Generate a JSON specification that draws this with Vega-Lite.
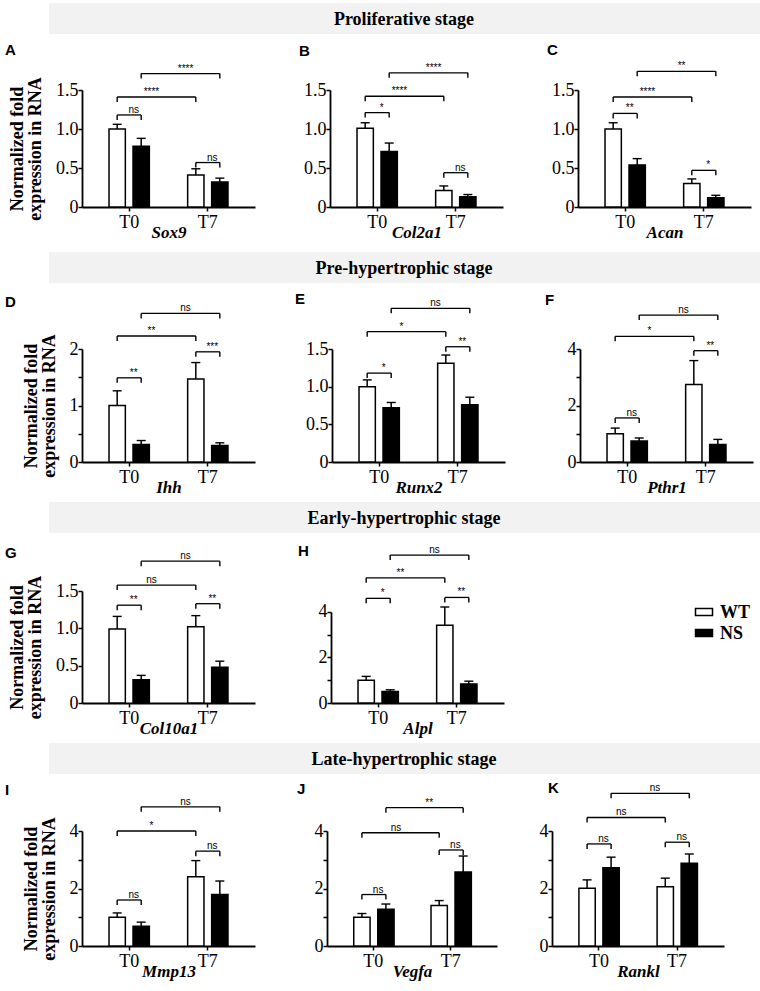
{
"$schema": "https://vega.github.io/schema/vega-lite/v6.json",
"padding": {"left": 5, "top": 3, "right": 0, "bottom": 3},
"datasets": {"d": [
{"r":"bar","p":"A","t":"T0","g":"WT","v":1.0,"u":1.06},{"r":"bar","p":"A","t":"T0","g":"NS","v":0.78,"u":0.88},{"r":"bar","p":"A","t":"T7","g":"WT","v":0.41,"u":0.49},{"r":"bar","p":"A","t":"T7","g":"NS","v":0.32,"u":0.37},
{"r":"bar","p":"B","t":"T0","g":"WT","v":1.01,"u":1.08},{"r":"bar","p":"B","t":"T0","g":"NS","v":0.71,"u":0.82},{"r":"bar","p":"B","t":"T7","g":"WT","v":0.21,"u":0.27},{"r":"bar","p":"B","t":"T7","g":"NS","v":0.13,"u":0.16},
{"r":"bar","p":"C","t":"T0","g":"WT","v":1.0,"u":1.08},{"r":"bar","p":"C","t":"T0","g":"NS","v":0.54,"u":0.62},{"r":"bar","p":"C","t":"T7","g":"WT","v":0.3,"u":0.36},{"r":"bar","p":"C","t":"T7","g":"NS","v":0.12,"u":0.15},
{"r":"bar","p":"D","t":"T0","g":"WT","v":1.0,"u":1.26},{"r":"bar","p":"D","t":"T0","g":"NS","v":0.31,"u":0.38},{"r":"bar","p":"D","t":"T7","g":"WT","v":1.47,"u":1.76},{"r":"bar","p":"D","t":"T7","g":"NS","v":0.29,"u":0.34},
{"r":"bar","p":"E","t":"T0","g":"WT","v":1.0,"u":1.09},{"r":"bar","p":"E","t":"T0","g":"NS","v":0.72,"u":0.79},{"r":"bar","p":"E","t":"T7","g":"WT","v":1.31,"u":1.42},{"r":"bar","p":"E","t":"T7","g":"NS","v":0.76,"u":0.86},
{"r":"bar","p":"F","t":"T0","g":"WT","v":1.0,"u":1.2},{"r":"bar","p":"F","t":"T0","g":"NS","v":0.74,"u":0.85},{"r":"bar","p":"F","t":"T7","g":"WT","v":2.74,"u":3.59},{"r":"bar","p":"F","t":"T7","g":"NS","v":0.62,"u":0.8},
{"r":"bar","p":"G","t":"T0","g":"WT","v":0.99,"u":1.16},{"r":"bar","p":"G","t":"T0","g":"NS","v":0.31,"u":0.37},{"r":"bar","p":"G","t":"T7","g":"WT","v":1.02,"u":1.17},{"r":"bar","p":"G","t":"T7","g":"NS","v":0.48,"u":0.56},
{"r":"bar","p":"H","t":"T0","g":"WT","v":1.0,"u":1.17},{"r":"bar","p":"H","t":"T0","g":"NS","v":0.5,"u":0.58},{"r":"bar","p":"H","t":"T7","g":"WT","v":3.42,"u":4.22},{"r":"bar","p":"H","t":"T7","g":"NS","v":0.84,"u":0.96},
{"r":"bar","p":"I","t":"T0","g":"WT","v":1.0,"u":1.15},{"r":"bar","p":"I","t":"T0","g":"NS","v":0.69,"u":0.83},{"r":"bar","p":"I","t":"T7","g":"WT","v":2.41,"u":2.97},{"r":"bar","p":"I","t":"T7","g":"NS","v":1.79,"u":2.26},
{"r":"bar","p":"J","t":"T0","g":"WT","v":1.0,"u":1.13},{"r":"bar","p":"J","t":"T0","g":"NS","v":1.28,"u":1.46},{"r":"bar","p":"J","t":"T7","g":"WT","v":1.41,"u":1.58},{"r":"bar","p":"J","t":"T7","g":"NS","v":2.57,"u":3.13},
{"r":"bar","p":"K","t":"T0","g":"WT","v":2.01,"u":2.3},{"r":"bar","p":"K","t":"T0","g":"NS","v":2.72,"u":3.09},{"r":"bar","p":"K","t":"T7","g":"WT","v":2.06,"u":2.36},{"r":"bar","p":"K","t":"T7","g":"NS","v":2.88,"u":3.2},

{"r":"br","p":"A","b":"w0","t":"T0","g":"WT","v":1.18},{"r":"br","p":"A","b":"w0","t":"T0","g":"NS","v":1.18},{"r":"br","p":"A","b":"lw","t":"T0","g":"WT","v":1.41},{"r":"br","p":"A","b":"lw","t":"T7","g":"WT","v":1.41},{"r":"br","p":"A","b":"ln","t":"T0","g":"NS","v":1.71},{"r":"br","p":"A","b":"ln","t":"T7","g":"NS","v":1.71},{"r":"br","p":"A","b":"w7","t":"T7","g":"WT","v":0.57},{"r":"br","p":"A","b":"w7","t":"T7","g":"NS","v":0.57},
{"r":"br","p":"B","b":"w0","t":"T0","g":"WT","v":1.21},{"r":"br","p":"B","b":"w0","t":"T0","g":"NS","v":1.21},{"r":"br","p":"B","b":"lw","t":"T0","g":"WT","v":1.42},{"r":"br","p":"B","b":"lw","t":"T7","g":"WT","v":1.42},{"r":"br","p":"B","b":"ln","t":"T0","g":"NS","v":1.72},{"r":"br","p":"B","b":"ln","t":"T7","g":"NS","v":1.72},{"r":"br","p":"B","b":"w7","t":"T7","g":"WT","v":0.44},{"r":"br","p":"B","b":"w7","t":"T7","g":"NS","v":0.44},
{"r":"br","p":"C","b":"w0","t":"T0","g":"WT","v":1.2},{"r":"br","p":"C","b":"w0","t":"T0","g":"NS","v":1.2},{"r":"br","p":"C","b":"lw","t":"T0","g":"WT","v":1.41},{"r":"br","p":"C","b":"lw","t":"T7","g":"WT","v":1.41},{"r":"br","p":"C","b":"ln","t":"T0","g":"NS","v":1.74},{"r":"br","p":"C","b":"ln","t":"T7","g":"NS","v":1.74},{"r":"br","p":"C","b":"w7","t":"T7","g":"WT","v":0.47},{"r":"br","p":"C","b":"w7","t":"T7","g":"NS","v":0.47},
{"r":"br","p":"D","b":"w0","t":"T0","g":"WT","v":1.49},{"r":"br","p":"D","b":"w0","t":"T0","g":"NS","v":1.49},{"r":"br","p":"D","b":"lw","t":"T0","g":"WT","v":2.23},{"r":"br","p":"D","b":"lw","t":"T7","g":"WT","v":2.23},{"r":"br","p":"D","b":"ln","t":"T0","g":"NS","v":2.63},{"r":"br","p":"D","b":"ln","t":"T7","g":"NS","v":2.63},{"r":"br","p":"D","b":"w7","t":"T7","g":"WT","v":1.95},{"r":"br","p":"D","b":"w7","t":"T7","g":"NS","v":1.95},
{"r":"br","p":"E","b":"w0","t":"T0","g":"WT","v":1.18},{"r":"br","p":"E","b":"w0","t":"T0","g":"NS","v":1.18},{"r":"br","p":"E","b":"lw","t":"T0","g":"WT","v":1.73},{"r":"br","p":"E","b":"lw","t":"T7","g":"WT","v":1.73},{"r":"br","p":"E","b":"ln","t":"T0","g":"NS","v":2.04},{"r":"br","p":"E","b":"ln","t":"T7","g":"NS","v":2.04},{"r":"br","p":"E","b":"w7","t":"T7","g":"WT","v":1.53},{"r":"br","p":"E","b":"w7","t":"T7","g":"NS","v":1.53},
{"r":"br","p":"F","b":"w0","t":"T0","g":"WT","v":1.56},{"r":"br","p":"F","b":"w0","t":"T0","g":"NS","v":1.56},{"r":"br","p":"F","b":"lw","t":"T0","g":"WT","v":4.45},{"r":"br","p":"F","b":"lw","t":"T7","g":"WT","v":4.45},{"r":"br","p":"F","b":"ln","t":"T0","g":"NS","v":5.2},{"r":"br","p":"F","b":"ln","t":"T7","g":"NS","v":5.2},{"r":"br","p":"F","b":"w7","t":"T7","g":"WT","v":3.94},{"r":"br","p":"F","b":"w7","t":"T7","g":"NS","v":3.94},
{"r":"br","p":"G","b":"w0","t":"T0","g":"WT","v":1.31},{"r":"br","p":"G","b":"w0","t":"T0","g":"NS","v":1.31},{"r":"br","p":"G","b":"lw","t":"T0","g":"WT","v":1.58},{"r":"br","p":"G","b":"lw","t":"T7","g":"WT","v":1.58},{"r":"br","p":"G","b":"ln","t":"T0","g":"NS","v":1.9},{"r":"br","p":"G","b":"ln","t":"T7","g":"NS","v":1.9},{"r":"br","p":"G","b":"w7","t":"T7","g":"WT","v":1.33},{"r":"br","p":"G","b":"w7","t":"T7","g":"NS","v":1.33},
{"r":"br","p":"H","b":"w0","t":"T0","g":"WT","v":4.6},{"r":"br","p":"H","b":"w0","t":"T0","g":"NS","v":4.6},{"r":"br","p":"H","b":"lw","t":"T0","g":"WT","v":5.5},{"r":"br","p":"H","b":"lw","t":"T7","g":"WT","v":5.5},{"r":"br","p":"H","b":"ln","t":"T0","g":"NS","v":6.5},{"r":"br","p":"H","b":"ln","t":"T7","g":"NS","v":6.5},{"r":"br","p":"H","b":"w7","t":"T7","g":"WT","v":4.64},{"r":"br","p":"H","b":"w7","t":"T7","g":"NS","v":4.64},
{"r":"br","p":"I","b":"w0","t":"T0","g":"WT","v":1.6},{"r":"br","p":"I","b":"w0","t":"T0","g":"NS","v":1.6},{"r":"br","p":"I","b":"lw","t":"T0","g":"WT","v":4.0},{"r":"br","p":"I","b":"lw","t":"T7","g":"WT","v":4.0},{"r":"br","p":"I","b":"ln","t":"T0","g":"NS","v":4.84},{"r":"br","p":"I","b":"ln","t":"T7","g":"NS","v":4.84},{"r":"br","p":"I","b":"w7","t":"T7","g":"WT","v":3.3},{"r":"br","p":"I","b":"w7","t":"T7","g":"NS","v":3.3},
{"r":"br","p":"J","b":"w0","t":"T0","g":"WT","v":1.79},{"r":"br","p":"J","b":"w0","t":"T0","g":"NS","v":1.79},{"r":"br","p":"J","b":"lw","t":"T0","g":"WT","v":3.94},{"r":"br","p":"J","b":"lw","t":"T7","g":"WT","v":3.94},{"r":"br","p":"J","b":"ln","t":"T0","g":"NS","v":4.81},{"r":"br","p":"J","b":"ln","t":"T7","g":"NS","v":4.81},{"r":"br","p":"J","b":"w7","t":"T7","g":"WT","v":3.34},{"r":"br","p":"J","b":"w7","t":"T7","g":"NS","v":3.34},
{"r":"br","p":"K","b":"w0","t":"T0","g":"WT","v":3.55},{"r":"br","p":"K","b":"w0","t":"T0","g":"NS","v":3.55},{"r":"br","p":"K","b":"lw","t":"T0","g":"WT","v":4.47},{"r":"br","p":"K","b":"lw","t":"T7","g":"WT","v":4.47},{"r":"br","p":"K","b":"ln","t":"T0","g":"NS","v":5.31},{"r":"br","p":"K","b":"ln","t":"T7","g":"NS","v":5.31},{"r":"br","p":"K","b":"w7","t":"T7","g":"WT","v":3.61},{"r":"br","p":"K","b":"w7","t":"T7","g":"NS","v":3.61},

{"r":"lab","p":"A","k":"w","t":"T0","g":"WT","v":1.18,"s":"ns"},{"r":"lab","p":"A","k":"lw","t":"T0","g":"NS","v":1.41,"s":"****"},{"r":"lab","p":"A","k":"ln","t":"T7","g":"WT","v":1.71,"s":"****"},{"r":"lab","p":"A","k":"w","t":"T7","g":"WT","v":0.57,"s":"ns"},
{"r":"lab","p":"B","k":"w","t":"T0","g":"WT","v":1.21,"s":"*"},{"r":"lab","p":"B","k":"lw","t":"T0","g":"NS","v":1.42,"s":"****"},{"r":"lab","p":"B","k":"ln","t":"T7","g":"WT","v":1.72,"s":"****"},{"r":"lab","p":"B","k":"w","t":"T7","g":"WT","v":0.44,"s":"ns"},
{"r":"lab","p":"C","k":"w","t":"T0","g":"WT","v":1.2,"s":"**"},{"r":"lab","p":"C","k":"lw","t":"T0","g":"NS","v":1.41,"s":"****"},{"r":"lab","p":"C","k":"ln","t":"T7","g":"WT","v":1.74,"s":"**"},{"r":"lab","p":"C","k":"w","t":"T7","g":"WT","v":0.47,"s":"*"},
{"r":"lab","p":"D","k":"w","t":"T0","g":"WT","v":1.49,"s":"**"},{"r":"lab","p":"D","k":"lw","t":"T0","g":"NS","v":2.23,"s":"**"},{"r":"lab","p":"D","k":"ln","t":"T7","g":"WT","v":2.63,"s":"ns"},{"r":"lab","p":"D","k":"w","t":"T7","g":"WT","v":1.95,"s":"***"},
{"r":"lab","p":"E","k":"w","t":"T0","g":"WT","v":1.18,"s":"*"},{"r":"lab","p":"E","k":"lw","t":"T0","g":"NS","v":1.73,"s":"*"},{"r":"lab","p":"E","k":"ln","t":"T7","g":"WT","v":2.04,"s":"ns"},{"r":"lab","p":"E","k":"w","t":"T7","g":"WT","v":1.53,"s":"**"},
{"r":"lab","p":"F","k":"w","t":"T0","g":"WT","v":1.56,"s":"ns"},{"r":"lab","p":"F","k":"lw","t":"T0","g":"NS","v":4.45,"s":"*"},{"r":"lab","p":"F","k":"ln","t":"T7","g":"WT","v":5.2,"s":"ns"},{"r":"lab","p":"F","k":"w","t":"T7","g":"WT","v":3.94,"s":"**"},
{"r":"lab","p":"G","k":"w","t":"T0","g":"WT","v":1.31,"s":"**"},{"r":"lab","p":"G","k":"lw","t":"T0","g":"NS","v":1.58,"s":"ns"},{"r":"lab","p":"G","k":"ln","t":"T7","g":"WT","v":1.9,"s":"ns"},{"r":"lab","p":"G","k":"w","t":"T7","g":"WT","v":1.33,"s":"**"},
{"r":"lab","p":"H","k":"w","t":"T0","g":"WT","v":4.6,"s":"*"},{"r":"lab","p":"H","k":"lw","t":"T0","g":"NS","v":5.5,"s":"**"},{"r":"lab","p":"H","k":"ln","t":"T7","g":"WT","v":6.5,"s":"ns"},{"r":"lab","p":"H","k":"w","t":"T7","g":"WT","v":4.64,"s":"**"},
{"r":"lab","p":"I","k":"w","t":"T0","g":"WT","v":1.6,"s":"ns"},{"r":"lab","p":"I","k":"lw","t":"T0","g":"NS","v":4.0,"s":"*"},{"r":"lab","p":"I","k":"ln","t":"T7","g":"WT","v":4.84,"s":"ns"},{"r":"lab","p":"I","k":"w","t":"T7","g":"WT","v":3.3,"s":"ns"},
{"r":"lab","p":"J","k":"w","t":"T0","g":"WT","v":1.79,"s":"ns"},{"r":"lab","p":"J","k":"lw","t":"T0","g":"NS","v":3.94,"s":"ns"},{"r":"lab","p":"J","k":"ln","t":"T7","g":"WT","v":4.81,"s":"**"},{"r":"lab","p":"J","k":"w","t":"T7","g":"WT","v":3.34,"s":"ns"},
{"r":"lab","p":"K","k":"w","t":"T0","g":"WT","v":3.55,"s":"ns"},{"r":"lab","p":"K","k":"lw","t":"T0","g":"NS","v":4.47,"s":"ns"},{"r":"lab","p":"K","k":"ln","t":"T7","g":"WT","v":5.31,"s":"ns"},{"r":"lab","p":"K","k":"w","t":"T7","g":"WT","v":3.61,"s":"ns"}
]},
"config": {
"view": {"stroke": null},
"scale": {"bandPaddingInner": 0, "bandPaddingOuter": 0, "offsetBandPaddingInner": 0.32, "offsetBandPaddingOuter": 0.47},
"axis": {"domainColor": "black", "domainWidth": 1.8, "tickColor": "black", "tickWidth": 1.5, "tickSize": 4, "labelColor": "black", "labelFont": "Liberation Serif", "labelFontSize": 18, "labelPadding": 0, "grid": false, "titleFont": "Liberation Serif", "titleFontWeight": "bold", "titleColor": "black"},
"axisX": {"labelAngle": 0, "labelPadding": 2, "titleFontStyle": "italic", "titleFontSize": 17, "titlePadding": -7},
"axisY": {"titleFontSize": 18, "titlePadding": 11, "titleLineHeight": 18},
"title": {"font": "Liberation Sans", "fontSize": 15, "fontWeight": "bold", "anchor": "start", "frame": "group", "baseline": "alphabetic", "color": "black"},
"bar": {"stroke": "black", "strokeWidth": 1.5},
"rule": {"color": "black", "strokeWidth": 1.5},
"tick": {"color": "black", "thickness": 1.4, "opacity": 1},
"line": {"color": "black", "strokeWidth": 1.3},
"text": {"font": "Liberation Sans", "fontSize": 10, "baseline": "alphabetic", "dy": -2, "color": "black"}
},
"columns": 1, "align": "none", "spacing": 8,
"concat": [
{"width": 678, "height": 31, "view": {"fill": "#f2f2f2", "stroke": null}, "data": {"values": [{"s": "Proliferative stage"}]}, "mark": {"type": "text", "font": "Liberation Serif", "fontSize": 18, "fontWeight": "bold", "baseline": "middle", "dy": 1, "dx": -17}, "encoding": {"text": {"field": "s"}, "y": {"field": "s", "type": "nominal", "axis": {"title": null, "labels": false, "ticks": false, "domainColor": "#f2f2f2", "domainWidth": 34, "offset": 16, "translate": 0}}}},
{"columns": 1, "align": "none", "spacing": 12, "concat": [
{"spacing": 44, "hconcat": [
{"width":173,"height":117,"title":{"text":"A","dx":-77,"offset":6},"data":{"name":"d"},"transform":[{"filter":"datum.p=='A'"}],
"encoding":{"x":{"field":"t","type":"nominal","scale":{"type":"band"},"axis":{"title":"Sox9"}},"xOffset":{"field":"g","type":"nominal","scale":{"type":"band","domain":["WT","NS"]}},"y":{"field":"v","type":"quantitative","scale":{"domain":[0,1.5],"nice":false},"axis":{"title":["Normalized fold","expression in RNA"],"values":[0,0.5,1,1.5],"labelExpr":"datum.value == 0 ? '0' : format(datum.value, '.1f')"}}},
"layer":[
{"transform":[{"filter":"datum.r=='bar'"}],"mark":"bar","encoding":{"fill":{"field":"g","type":"nominal","title":null,"scale":{"domain":["WT","NS"],"range":["white","black"]},"legend":null}}},
{"transform":[{"filter":"datum.r=='bar'"}],"mark":"rule","encoding":{"y2":{"field":"u"}}},
{"transform":[{"filter":"datum.r=='bar'"}],"mark":{"type":"tick","size":9},"encoding":{"y":{"field":"u","type":"quantitative"}}},
{"transform":[{"filter":"datum.r=='br'"}],"mark":"line","encoding":{"detail":{"field":"b"}}},
{"transform":[{"filter":"datum.r=='br'"}],"mark":{"type":"tick","orient":"vertical","size":5,"yOffset":2.5}},
{"transform":[{"filter":"datum.k=='w'"}],"mark":{"type":"text","dx":16.5},"encoding":{"text":{"field":"s"}}},
{"transform":[{"filter":"datum.k=='lw'"}],"mark":{"type":"text","dx":10.25},"encoding":{"text":{"field":"s"}}},
{"transform":[{"filter":"datum.k=='ln'"}],"mark":{"type":"text","dx":-10.25},"encoding":{"text":{"field":"s"}}}
]},
{"width":173,"height":117,"title":{"text":"B","dx":-31,"offset":4},"data":{"name":"d"},"transform":[{"filter":"datum.p=='B'"}],
"encoding":{"x":{"field":"t","type":"nominal","scale":{"type":"band"},"axis":{"title":"Col2a1"}},"xOffset":{"field":"g","type":"nominal","scale":{"type":"band","domain":["WT","NS"]}},"y":{"field":"v","type":"quantitative","scale":{"domain":[0,1.5],"nice":false},"axis":{"title":null,"values":[0,0.5,1,1.5],"labelExpr":"datum.value == 0 ? '0' : format(datum.value, '.1f')"}}},
"layer":[
{"transform":[{"filter":"datum.r=='bar'"}],"mark":"bar","encoding":{"fill":{"field":"g","type":"nominal","title":null,"scale":{"domain":["WT","NS"],"range":["white","black"]},"legend":null}}},
{"transform":[{"filter":"datum.r=='bar'"}],"mark":"rule","encoding":{"y2":{"field":"u"}}},
{"transform":[{"filter":"datum.r=='bar'"}],"mark":{"type":"tick","size":9},"encoding":{"y":{"field":"u","type":"quantitative"}}},
{"transform":[{"filter":"datum.r=='br'"}],"mark":"line","encoding":{"detail":{"field":"b"}}},
{"transform":[{"filter":"datum.r=='br'"}],"mark":{"type":"tick","orient":"vertical","size":5,"yOffset":2.5}},
{"transform":[{"filter":"datum.k=='w'"}],"mark":{"type":"text","dx":16.5},"encoding":{"text":{"field":"s"}}},
{"transform":[{"filter":"datum.k=='lw'"}],"mark":{"type":"text","dx":10.25},"encoding":{"text":{"field":"s"}}},
{"transform":[{"filter":"datum.k=='ln'"}],"mark":{"type":"text","dx":-10.25},"encoding":{"text":{"field":"s"}}}
]},
{"width":173,"height":117,"title":{"text":"C","dx":-31,"offset":3},"data":{"name":"d"},"transform":[{"filter":"datum.p=='C'"}],
"encoding":{"x":{"field":"t","type":"nominal","scale":{"type":"band"},"axis":{"title":"Acan"}},"xOffset":{"field":"g","type":"nominal","scale":{"type":"band","domain":["WT","NS"]}},"y":{"field":"v","type":"quantitative","scale":{"domain":[0,1.5],"nice":false},"axis":{"title":null,"values":[0,0.5,1,1.5],"labelExpr":"datum.value == 0 ? '0' : format(datum.value, '.1f')"}}},
"layer":[
{"transform":[{"filter":"datum.r=='bar'"}],"mark":"bar","encoding":{"fill":{"field":"g","type":"nominal","title":null,"scale":{"domain":["WT","NS"],"range":["white","black"]},"legend":null}}},
{"transform":[{"filter":"datum.r=='bar'"}],"mark":"rule","encoding":{"y2":{"field":"u"}}},
{"transform":[{"filter":"datum.r=='bar'"}],"mark":{"type":"tick","size":9},"encoding":{"y":{"field":"u","type":"quantitative"}}},
{"transform":[{"filter":"datum.r=='br'"}],"mark":"line","encoding":{"detail":{"field":"b"}}},
{"transform":[{"filter":"datum.r=='br'"}],"mark":{"type":"tick","orient":"vertical","size":5,"yOffset":2.5}},
{"transform":[{"filter":"datum.k=='w'"}],"mark":{"type":"text","dx":16.5},"encoding":{"text":{"field":"s"}}},
{"transform":[{"filter":"datum.k=='lw'"}],"mark":{"type":"text","dx":10.25},"encoding":{"text":{"field":"s"}}},
{"transform":[{"filter":"datum.k=='ln'"}],"mark":{"type":"text","dx":-10.25},"encoding":{"text":{"field":"s"}}}
]}
]},
{"columns": 1, "align": "none", "spacing": 9, "concat": [
{"width": 678, "height": 31, "view": {"fill": "#f2f2f2", "stroke": null}, "data": {"values": [{"s": "Pre-hypertrophic stage"}]}, "mark": {"type": "text", "font": "Liberation Serif", "fontSize": 18, "fontWeight": "bold", "baseline": "middle", "dy": 1, "dx": -17}, "encoding": {"text": {"field": "s"}, "y": {"field": "s", "type": "nominal", "axis": {"title": null, "labels": false, "ticks": false, "domainColor": "#f2f2f2", "domainWidth": 34, "offset": 16, "translate": 0}}}},
{"columns": 1, "align": "none", "spacing": 7, "concat": [
{"spacing": 40, "hconcat": [
{"width":173,"height":113,"title":{"text":"D","dx":-77,"offset":-7},"data":{"name":"d"},"transform":[{"filter":"datum.p=='D'"}],
"encoding":{"x":{"field":"t","type":"nominal","scale":{"type":"band"},"axis":{"title":"Ihh"}},"xOffset":{"field":"g","type":"nominal","scale":{"type":"band","domain":["WT","NS"]}},"y":{"field":"v","type":"quantitative","scale":{"domain":[0,2],"nice":false},"axis":{"title":["Normalized fold","expression in RNA"],"values":[0,0.5,1,1.5,2],"labelExpr":"datum.value % 1 == 0 ? format(datum.value, 'd') : ''"}}},
"layer":[
{"transform":[{"filter":"datum.r=='bar'"}],"mark":"bar","encoding":{"fill":{"field":"g","type":"nominal","title":null,"scale":{"domain":["WT","NS"],"range":["white","black"]},"legend":null}}},
{"transform":[{"filter":"datum.r=='bar'"}],"mark":"rule","encoding":{"y2":{"field":"u"}}},
{"transform":[{"filter":"datum.r=='bar'"}],"mark":{"type":"tick","size":9},"encoding":{"y":{"field":"u","type":"quantitative"}}},
{"transform":[{"filter":"datum.r=='br'"}],"mark":"line","encoding":{"detail":{"field":"b"}}},
{"transform":[{"filter":"datum.r=='br'"}],"mark":{"type":"tick","orient":"vertical","size":5,"yOffset":2.5}},
{"transform":[{"filter":"datum.k=='w'"}],"mark":{"type":"text","dx":16.5},"encoding":{"text":{"field":"s"}}},
{"transform":[{"filter":"datum.k=='lw'"}],"mark":{"type":"text","dx":10.25},"encoding":{"text":{"field":"s"}}},
{"transform":[{"filter":"datum.k=='ln'"}],"mark":{"type":"text","dx":-10.25},"encoding":{"text":{"field":"s"}}}
]},
{"width":173,"height":113,"title":{"text":"E","dx":-37,"offset":-9},"data":{"name":"d"},"transform":[{"filter":"datum.p=='E'"}],
"encoding":{"x":{"field":"t","type":"nominal","scale":{"type":"band"},"axis":{"title":"Runx2"}},"xOffset":{"field":"g","type":"nominal","scale":{"type":"band","domain":["WT","NS"]}},"y":{"field":"v","type":"quantitative","scale":{"domain":[0,1.5],"nice":false},"axis":{"title":null,"values":[0,0.5,1,1.5],"labelExpr":"datum.value == 0 ? '0' : format(datum.value, '.1f')"}}},
"layer":[
{"transform":[{"filter":"datum.r=='bar'"}],"mark":"bar","encoding":{"fill":{"field":"g","type":"nominal","title":null,"scale":{"domain":["WT","NS"],"range":["white","black"]},"legend":null}}},
{"transform":[{"filter":"datum.r=='bar'"}],"mark":"rule","encoding":{"y2":{"field":"u"}}},
{"transform":[{"filter":"datum.r=='bar'"}],"mark":{"type":"tick","size":9},"encoding":{"y":{"field":"u","type":"quantitative"}}},
{"transform":[{"filter":"datum.r=='br'"}],"mark":"line","encoding":{"detail":{"field":"b"}}},
{"transform":[{"filter":"datum.r=='br'"}],"mark":{"type":"tick","orient":"vertical","size":5,"yOffset":2.5}},
{"transform":[{"filter":"datum.k=='w'"}],"mark":{"type":"text","dx":16.5},"encoding":{"text":{"field":"s"}}},
{"transform":[{"filter":"datum.k=='lw'"}],"mark":{"type":"text","dx":10.25},"encoding":{"text":{"field":"s"}}},
{"transform":[{"filter":"datum.k=='ln'"}],"mark":{"type":"text","dx":-10.25},"encoding":{"text":{"field":"s"}}}
]},
{"width":173,"height":113,"title":{"text":"F","dx":-35,"offset":-3},"data":{"name":"d"},"transform":[{"filter":"datum.p=='F'"}],
"encoding":{"x":{"field":"t","type":"nominal","scale":{"type":"band"},"axis":{"title":"Pthr1"}},"xOffset":{"field":"g","type":"nominal","scale":{"type":"band","domain":["WT","NS"]}},"y":{"field":"v","type":"quantitative","scale":{"domain":[0,4],"nice":false},"axis":{"title":null,"values":[0,1,2,3,4],"labelExpr":"datum.value % 2 == 0 ? format(datum.value, 'd') : ''"}}},
"layer":[
{"transform":[{"filter":"datum.r=='bar'"}],"mark":"bar","encoding":{"fill":{"field":"g","type":"nominal","title":null,"scale":{"domain":["WT","NS"],"range":["white","black"]},"legend":null}}},
{"transform":[{"filter":"datum.r=='bar'"}],"mark":"rule","encoding":{"y2":{"field":"u"}}},
{"transform":[{"filter":"datum.r=='bar'"}],"mark":{"type":"tick","size":9},"encoding":{"y":{"field":"u","type":"quantitative"}}},
{"transform":[{"filter":"datum.r=='br'"}],"mark":"line","encoding":{"detail":{"field":"b"}}},
{"transform":[{"filter":"datum.r=='br'"}],"mark":{"type":"tick","orient":"vertical","size":5,"yOffset":2.5}},
{"transform":[{"filter":"datum.k=='w'"}],"mark":{"type":"text","dx":16.5},"encoding":{"text":{"field":"s"}}},
{"transform":[{"filter":"datum.k=='lw'"}],"mark":{"type":"text","dx":10.25},"encoding":{"text":{"field":"s"}}},
{"transform":[{"filter":"datum.k=='ln'"}],"mark":{"type":"text","dx":-10.25},"encoding":{"text":{"field":"s"}}}
]}
]},
{"columns": 1, "align": "none", "spacing": 11, "concat": [
{"width": 678, "height": 31, "view": {"fill": "#f2f2f2", "stroke": null}, "data": {"values": [{"s": "Early-hypertrophic stage"}]}, "mark": {"type": "text", "font": "Liberation Serif", "fontSize": 18, "fontWeight": "bold", "baseline": "middle", "dy": 1, "dx": -17}, "encoding": {"text": {"field": "s"}, "y": {"field": "s", "type": "nominal", "axis": {"title": null, "labels": false, "ticks": false, "domainColor": "#f2f2f2", "domainWidth": 34, "offset": 16, "translate": 0}}}},
{"columns": 1, "align": "none", "spacing": 7, "concat": [
{"spacing": 43, "hconcat": [
{"width":173,"height":112,"title":{"text":"G","dx":-77,"offset":-10},"data":{"name":"d"},"transform":[{"filter":"datum.p=='G'"}],
"encoding":{"x":{"field":"t","type":"nominal","scale":{"type":"band"},"axis":{"title":"Col10a1"}},"xOffset":{"field":"g","type":"nominal","scale":{"type":"band","domain":["WT","NS"]}},"y":{"field":"v","type":"quantitative","scale":{"domain":[0,1.5],"nice":false},"axis":{"title":["Normalized fold","expression in RNA"],"values":[0,0.5,1,1.5],"labelExpr":"datum.value == 0 ? '0' : format(datum.value, '.1f')"}}},
"layer":[
{"transform":[{"filter":"datum.r=='bar'"}],"mark":"bar","encoding":{"fill":{"field":"g","type":"nominal","title":null,"scale":{"domain":["WT","NS"],"range":["white","black"]},"legend":null}}},
{"transform":[{"filter":"datum.r=='bar'"}],"mark":"rule","encoding":{"y2":{"field":"u"}}},
{"transform":[{"filter":"datum.r=='bar'"}],"mark":{"type":"tick","size":9},"encoding":{"y":{"field":"u","type":"quantitative"}}},
{"transform":[{"filter":"datum.r=='br'"}],"mark":"line","encoding":{"detail":{"field":"b"}}},
{"transform":[{"filter":"datum.r=='br'"}],"mark":{"type":"tick","orient":"vertical","size":5,"yOffset":2.5}},
{"transform":[{"filter":"datum.k=='w'"}],"mark":{"type":"text","dx":16.5},"encoding":{"text":{"field":"s"}}},
{"transform":[{"filter":"datum.k=='lw'"}],"mark":{"type":"text","dx":10.25},"encoding":{"text":{"field":"s"}}},
{"transform":[{"filter":"datum.k=='ln'"}],"mark":{"type":"text","dx":-10.25},"encoding":{"text":{"field":"s"}}}
]},
{"width":173,"height":112,"title":{"text":"H","dx":-33,"offset":-14},"data":{"name":"d"},"transform":[{"filter":"datum.p=='H'"}],
"encoding":{"x":{"field":"t","type":"nominal","scale":{"type":"band"},"axis":{"title":"Alpl"}},"xOffset":{"field":"g","type":"nominal","scale":{"type":"band","domain":["WT","NS"]}},"y":{"field":"v","type":"quantitative","scale":{"domain":[0,4.923],"nice":false},"axis":{"title":null,"values":[0,1,2,3,4],"domainDash":[91,200],"labelExpr":"datum.value % 2 == 0 ? format(datum.value, 'd') : ''"}}},
"layer":[
{"transform":[{"filter":"datum.r=='bar'"}],"mark":"bar","encoding":{"fill":{"field":"g","type":"nominal","title":null,"scale":{"domain":["WT","NS"],"range":["white","black"]},"legend":null}}},
{"transform":[{"filter":"datum.r=='bar'"}],"mark":"rule","encoding":{"y2":{"field":"u"}}},
{"transform":[{"filter":"datum.r=='bar'"}],"mark":{"type":"tick","size":9},"encoding":{"y":{"field":"u","type":"quantitative"}}},
{"transform":[{"filter":"datum.r=='br'"}],"mark":"line","encoding":{"detail":{"field":"b"}}},
{"transform":[{"filter":"datum.r=='br'"}],"mark":{"type":"tick","orient":"vertical","size":5,"yOffset":2.5}},
{"transform":[{"filter":"datum.k=='w'"}],"mark":{"type":"text","dx":16.5},"encoding":{"text":{"field":"s"}}},
{"transform":[{"filter":"datum.k=='lw'"}],"mark":{"type":"text","dx":10.25},"encoding":{"text":{"field":"s"}}},
{"transform":[{"filter":"datum.k=='ln'"}],"mark":{"type":"text","dx":-10.25},"encoding":{"text":{"field":"s"}}}
]},
{"spacing": 144, "hconcat": [
{"width": 1, "height": 1, "data": {"values": []}, "mark": "point"},
{"width": 20, "height": 63, "data": {"values": [{"g": "WT"}, {"g": "NS"}]},
"encoding": {"y": {"field": "g", "type": "nominal", "scale": {"type": "point", "domain": ["WT","NS"], "padding": 1.158}, "axis": null}},
"layer": [
{"mark": {"type": "point", "shape": "M-1,-0.4H1V0.4H-1Z", "size": 289, "filled": true, "stroke": "black", "strokeWidth": 1.5, "opacity": 1}, "encoding": {"fill": {"field": "g", "type": "nominal", "title": null, "scale": {"domain": ["WT","NS"], "range": ["white","black"]}, "legend": null}}},
{"mark": {"type": "text", "align": "left", "dx": 16, "dy": 1, "baseline": "middle", "font": "Liberation Serif", "fontSize": 18, "fontWeight": "bold"}, "encoding": {"text": {"field": "g"}}}
]}
]}
]},
{"columns": 1, "align": "none", "spacing": 7, "concat": [
{"width": 678, "height": 31, "view": {"fill": "#f2f2f2", "stroke": null}, "data": {"values": [{"s": "Late-hypertrophic stage"}]}, "mark": {"type": "text", "font": "Liberation Serif", "fontSize": 18, "fontWeight": "bold", "baseline": "middle", "dy": 1, "dx": -17}, "encoding": {"text": {"field": "s"}, "y": {"field": "s", "type": "nominal", "axis": {"title": null, "labels": false, "ticks": false, "domainColor": "#f2f2f2", "domainWidth": 34, "offset": 16, "translate": 0}}}},
{"spacing": 42, "hconcat": [
{"width":173,"height":115,"title":{"text":"I","dx":-77,"offset":-1},"data":{"name":"d"},"transform":[{"filter":"datum.p=='I'"}],
"encoding":{"x":{"field":"t","type":"nominal","scale":{"type":"band"},"axis":{"title":"Mmp13"}},"xOffset":{"field":"g","type":"nominal","scale":{"type":"band","domain":["WT","NS"]}},"y":{"field":"v","type":"quantitative","scale":{"domain":[0,4],"nice":false},"axis":{"title":["Normalized fold","expression in RNA"],"values":[0,1,2,3,4],"labelExpr":"datum.value % 2 == 0 ? format(datum.value, 'd') : ''"}}},
"layer":[
{"transform":[{"filter":"datum.r=='bar'"}],"mark":"bar","encoding":{"fill":{"field":"g","type":"nominal","title":null,"scale":{"domain":["WT","NS"],"range":["white","black"]},"legend":null}}},
{"transform":[{"filter":"datum.r=='bar'"}],"mark":"rule","encoding":{"y2":{"field":"u"}}},
{"transform":[{"filter":"datum.r=='bar'"}],"mark":{"type":"tick","size":9},"encoding":{"y":{"field":"u","type":"quantitative"}}},
{"transform":[{"filter":"datum.r=='br'"}],"mark":"line","encoding":{"detail":{"field":"b"}}},
{"transform":[{"filter":"datum.r=='br'"}],"mark":{"type":"tick","orient":"vertical","size":5,"yOffset":2.5}},
{"transform":[{"filter":"datum.k=='w'"}],"mark":{"type":"text","dx":16.5},"encoding":{"text":{"field":"s"}}},
{"transform":[{"filter":"datum.k=='lw'"}],"mark":{"type":"text","dx":10.25},"encoding":{"text":{"field":"s"}}},
{"transform":[{"filter":"datum.k=='ln'"}],"mark":{"type":"text","dx":-10.25},"encoding":{"text":{"field":"s"}}}
]},
{"width":170,"height":115,"title":{"text":"J","dx":-30,"offset":1},"data":{"name":"d"},"transform":[{"filter":"datum.p=='J'"}],
"encoding":{"x":{"field":"t","type":"nominal","scale":{"type":"band"},"axis":{"title":"Vegfa"}},"xOffset":{"field":"g","type":"nominal","scale":{"type":"band","domain":["WT","NS"]}},"y":{"field":"v","type":"quantitative","scale":{"domain":[0,4],"nice":false},"axis":{"title":null,"values":[0,1,2,3,4],"labelExpr":"datum.value % 2 == 0 ? format(datum.value, 'd') : ''"}}},
"layer":[
{"transform":[{"filter":"datum.r=='bar'"}],"mark":"bar","encoding":{"fill":{"field":"g","type":"nominal","title":null,"scale":{"domain":["WT","NS"],"range":["white","black"]},"legend":null}}},
{"transform":[{"filter":"datum.r=='bar'"}],"mark":"rule","encoding":{"y2":{"field":"u"}}},
{"transform":[{"filter":"datum.r=='bar'"}],"mark":{"type":"tick","size":9},"encoding":{"y":{"field":"u","type":"quantitative"}}},
{"transform":[{"filter":"datum.r=='br'"}],"mark":"line","encoding":{"detail":{"field":"b"}}},
{"transform":[{"filter":"datum.r=='br'"}],"mark":{"type":"tick","orient":"vertical","size":5,"yOffset":2.5}},
{"transform":[{"filter":"datum.k=='w'"}],"mark":{"type":"text","dx":16.2},"encoding":{"text":{"field":"s"}}},
{"transform":[{"filter":"datum.k=='lw'"}],"mark":{"type":"text","dx":10},"encoding":{"text":{"field":"s"}}},
{"transform":[{"filter":"datum.k=='ln'"}],"mark":{"type":"text","dx":-10},"encoding":{"text":{"field":"s"}}}
]},
{"width":172,"height":115,"title":{"text":"K","dx":-4,"offset":-13},"data":{"name":"d"},"transform":[{"filter":"datum.p=='K'"}],
"encoding":{"x":{"field":"t","type":"nominal","scale":{"type":"band"},"axis":{"title":"Rankl"}},"xOffset":{"field":"g","type":"nominal","scale":{"type":"band","domain":["WT","NS"]}},"y":{"field":"v","type":"quantitative","scale":{"domain":[0,4],"nice":false},"axis":{"title":null,"values":[0,1,2,3,4],"labelExpr":"datum.value % 2 == 0 ? format(datum.value, 'd') : ''"}}},
"layer":[
{"transform":[{"filter":"datum.r=='bar'"}],"mark":"bar","encoding":{"fill":{"field":"g","type":"nominal","title":null,"scale":{"domain":["WT","NS"],"range":["white","black"]},"legend":null}}},
{"transform":[{"filter":"datum.r=='bar'"}],"mark":"rule","encoding":{"y2":{"field":"u"}}},
{"transform":[{"filter":"datum.r=='bar'"}],"mark":{"type":"tick","size":9},"encoding":{"y":{"field":"u","type":"quantitative"}}},
{"transform":[{"filter":"datum.r=='br'"}],"mark":"line","encoding":{"detail":{"field":"b"}}},
{"transform":[{"filter":"datum.r=='br'"}],"mark":{"type":"tick","orient":"vertical","size":5,"yOffset":2.5}},
{"transform":[{"filter":"datum.k=='w'"}],"mark":{"type":"text","dx":16.4},"encoding":{"text":{"field":"s"}}},
{"transform":[{"filter":"datum.k=='lw'"}],"mark":{"type":"text","dx":10.2},"encoding":{"text":{"field":"s"}}},
{"transform":[{"filter":"datum.k=='ln'"}],"mark":{"type":"text","dx":-10.2},"encoding":{"text":{"field":"s"}}}
]}
]}
]}
]}
]}
]}
]}
]}
]
}
